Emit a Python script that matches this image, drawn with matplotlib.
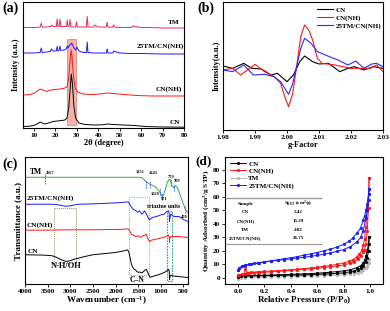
import numpy as np
import matplotlib
matplotlib.use("Agg")
import matplotlib.pyplot as plt
from matplotlib.patches import Rectangle

plt.rcParams['font.family'] = ['Liberation Serif', 'DejaVu Serif']
plt.rcParams['font.weight'] = 'bold'
plt.rcParams['axes.labelweight'] = 'bold'
plt.rcParams['axes.linewidth'] = 0.8
plt.rcParams['mathtext.default'] = 'regular'

# ---------------- (a) XRD ----------------
xrd_cn_x = [5, 8, 10, 12, 13, 14, 15, 17, 19, 21, 23, 24.5, 25.5, 26.3, 27, 27.5, 28, 28.7, 29.5, 31, 34, 38, 42, 44.5, 47, 52, 57, 62, 70, 80]
xrd_cn_y = [1.5, 1.8, 2.5, 4.5, 6, 5, 4, 5, 6.5, 7, 7.5, 8, 10, 20, 40, 54, 45, 22, 10, 5, 3.5, 3, 3.2, 4, 3.5, 3, 2.5, 1.5, 1, 0.8]

xrd_cnnh_x = [5, 8, 10, 12, 13, 14, 16, 18, 20, 22, 24, 25.5, 26.3, 27, 27.4, 27.8, 28.5, 29.3, 30.5, 33, 37, 41, 44, 47, 52, 58, 65, 72, 80]
xrd_cnnh_y = [33, 33.5, 34.5, 37.5, 39, 38, 36.5, 38, 38.5, 39, 39.5, 41, 50, 70, 78, 72, 52, 40, 36, 34, 33.5, 34, 35, 34.5, 33.5, 32.5, 32, 32, 32]

xrd_tmcn_x = [5, 10, 13, 13.5, 14, 16, 17.8, 18.2, 19, 20.5, 20.9, 21.3, 21.8, 22.2, 22.6, 24, 25.2, 25.6, 26, 26.6, 27.2, 27.7, 28.3, 29, 29.7, 30.1, 31, 33, 34.6, 34.9, 35.3, 38, 41, 43.8, 44.2, 44.6, 46.8, 47.2, 50, 55, 60, 70, 80]
xrd_tmcn_y = [75, 75, 75.5, 80, 75.5, 76, 76.5, 79, 77, 77, 81.5, 77, 77.5, 82, 77.5, 78, 79, 82, 80, 82.5, 83.5, 85, 82, 79, 78, 81, 77, 75.5, 75.5, 86, 75.5, 75, 75, 75, 79, 75, 75, 77, 75, 74.5, 74.5, 74, 74]

xrd_tm_x = [5, 10, 13, 13.5, 14, 16, 18, 18.5, 19, 20.5, 20.9, 21.3, 21.8, 22.2, 22.6, 24, 25.3, 25.6, 26, 26.5, 26.9, 27.3, 28, 29.5, 29.9, 30.3, 32, 34.5, 34.9, 35.3, 37, 38, 38.4, 40, 43.8, 44.2, 44.6, 46.8, 47.2, 47.6, 52, 55.5, 56, 60, 64, 70, 80]
xrd_tm_y = [100.5, 100.5, 100.8, 105, 100.8, 101, 101.5, 103, 101.5, 101.5, 109, 101.5, 101.5, 109, 101.5, 101.5, 101.5, 108, 101.5, 101.5, 108.5, 101.5, 101, 101, 106, 101, 101, 101, 111.5, 101, 101, 101, 103, 101, 100.8, 106, 100.8, 100.8, 103, 100.8, 100.5, 100.5, 102, 100.5, 100.5, 100, 100]

xrd_ticks = [10, 20, 30, 40, 50, 60, 70, 80]

# ---------------- (b) EPR ----------------
epr_cn_x = [1.980, 1.983, 1.9865, 1.989, 1.992, 1.995, 1.997, 2.000, 2.002, 2.004, 2.0055, 2.008, 2.010, 2.013, 2.0165, 2.019, 2.021, 2.024, 2.027, 2.030]
epr_cn_y = [192, 185, 200, 185, 183, 165, 170, 145, 165, 205, 222, 205, 198, 200, 175, 185, 190, 180, 190, 185]

epr_cnnh_x = [1.980, 1.983, 1.9855, 1.990, 1.993, 1.996, 1.998, 1.9993, 2.0005, 2.0018, 2.003, 2.0043, 2.0055, 2.0068, 2.008, 2.0095, 2.011, 2.015, 2.020, 2.023, 2.026, 2.028, 2.030]
epr_cnnh_y = [180, 185, 165, 197, 175, 160, 140, 100, 70, 110, 190, 280, 315, 300, 270, 215, 200, 195, 185, 185, 185, 195, 175]

epr_tmcn_x = [1.980, 1.983, 1.9865, 1.9895, 1.993, 1.996, 1.998, 1.9993, 2.0005, 2.0018, 2.003, 2.0043, 2.0055, 2.0065, 2.0075, 2.0095, 2.012, 2.0145, 2.016, 2.019, 2.0215, 2.024, 2.0265, 2.028, 2.030]
epr_tmcn_y = [180, 175, 195, 165, 167, 160, 145, 125, 107, 140, 190, 245, 275, 268, 260, 235, 225, 215, 210, 195, 207, 185, 198, 200, 190]

epr_ticks = [1.98, 1.99, 2.00, 2.01, 2.02, 2.03]

# ---------------- (c) FTIR ----------------
ir_tm_x = [4000, 3000, 2000, 1500, 1420, 1380, 1332, 1290, 1243, 1200, 1150, 1100, 1050, 1028, 1000, 971, 940, 900, 860, 820, 790, 779, 750, 720, 709, 680, 650, 620, 580, 540, 500, 470, 440, 400]
ir_tm_y = [321, 321, 321, 321, 320, 315, 308, 305, 300, 298, 295, 290, 282, 278, 270, 262, 268, 285, 305, 315, 313, 305, 295, 290, 292, 295, 293, 285, 270, 255, 240, 228, 220, 215]

ir_tmcn_x = [4000, 3600, 3400, 3300, 3200, 3100, 3000, 2900, 2800, 2500, 2000, 1800, 1720, 1690, 1657, 1620, 1584, 1550, 1511, 1474, 1440, 1416, 1390, 1365, 1328, 1291, 1255, 1220, 1182, 1108, 1050, 999, 926, 874, 830, 816, 808, 801, 790, 779, 740, 706, 650, 596, 540, 486, 440, 413]
ir_tmcn_y = [240, 240, 240, 239, 236, 234, 235, 238, 240, 241, 244, 246, 247, 240, 233, 226, 223, 220, 216, 220, 214, 210, 214, 220, 213, 203, 193, 197, 200, 203, 205, 208, 210, 218, 220, 213, 188, 196, 205, 210, 206, 203, 203, 203, 198, 193, 191, 188]

ir_cnnh_x = [4000, 3500, 3000, 2500, 2000, 1800, 1720, 1690, 1650, 1600, 1550, 1500, 1450, 1400, 1350, 1320, 1290, 1250, 1200, 1100, 1000, 900, 830, 815, 808, 800, 780, 700, 600, 500, 400]
ir_cnnh_y = [162, 162, 163, 163, 164, 165, 166, 160, 150, 146, 143, 145, 140, 145, 147, 150, 137, 128, 132, 135, 138, 142, 147, 143, 125, 138, 143, 143, 143, 141, 140]

ir_cn_x = [4000, 3600, 3400, 3300, 3200, 3100, 3000, 2900, 2700, 2500, 2200, 2000, 1800, 1740, 1710, 1680, 1650, 1620, 1590, 1560, 1530, 1500, 1460, 1420, 1380, 1350, 1320, 1290, 1260, 1240, 1200, 1150, 1050, 950, 880, 830, 815, 808, 798, 780, 720, 650, 580, 500, 440, 400]
ir_cn_y = [88, 87, 85, 80, 73, 68, 70, 75, 82, 88, 92, 95, 100, 103, 98, 80, 60, 50, 45, 42, 38, 35, 36, 33, 38, 42, 44, 35, 26, 20, 22, 24, 28, 33, 38, 44, 40, 14, 22, 26, 24, 23, 22, 21, 20, 20]

ir_peaks = [3567, 1332, 1243, 1028, 971, 779, 709, 470]
ir_peak_lo = [300, 290, 288, 268, 253, 295, 280, 213]
ir_peak_hi = [333, 312, 310, 290, 275, 318, 302, 238]
ir_peak_lx = [3450, 1470, 1180, 1125, 935, 779, 640, 480]
ir_peak_ly = [333, 336, 333, 271, 256, 323, 311, 202]
ir_ticks = [4000, 3500, 3000, 2500, 2000, 1500, 1000, 500]

# ---------------- (d) BET ----------------
bet_cn_ads_p = [0.0, 0.02, 0.05, 0.1, 0.15, 0.2, 0.25, 0.3, 0.35, 0.4, 0.45, 0.5, 0.55, 0.6, 0.65, 0.7, 0.75, 0.8, 0.85, 0.88, 0.91, 0.93, 0.95, 0.97, 0.98, 0.99, 0.995]
bet_cn_ads_q = [1.0, 1.2, 1.4, 1.5, 1.6, 1.7, 1.8, 1.9, 2.0, 2.1, 2.2, 2.3, 2.5, 2.7, 2.9, 3.1, 3.4, 3.8, 4.5, 5.2, 6.2, 7.2, 9.0, 12.0, 15.0, 20.0, 30.5]
bet_cn_des_p = [0.995, 0.99, 0.98, 0.97, 0.96, 0.95, 0.93, 0.9, 0.85, 0.8, 0.75, 0.7, 0.65, 0.6, 0.55, 0.5, 0.45, 0.4, 0.35, 0.3, 0.25, 0.2, 0.15, 0.1, 0.05]
bet_cn_des_q = [30.5, 25.0, 20.0, 16.0, 13.0, 11.0, 9.0, 7.5, 6.0, 5.2, 4.7, 4.2, 3.8, 3.5, 3.2, 3.0, 2.8, 2.6, 2.4, 2.3, 2.1, 2.0, 1.8, 1.7, 1.5]

bet_cnnh_ads_p = [0.0, 0.01, 0.03, 0.05, 0.08, 0.12, 0.16, 0.2, 0.25, 0.3, 0.35, 0.4, 0.45, 0.5, 0.55, 0.6, 0.65, 0.7, 0.75, 0.8, 0.85, 0.88, 0.91, 0.93, 0.95, 0.96, 0.97, 0.98, 0.99, 0.995]
bet_cnnh_ads_q = [2.0, 2.4, 2.8, 3.0, 3.3, 3.6, 3.9, 4.2, 4.5, 4.9, 5.2, 5.6, 6.0, 6.4, 6.8, 7.2, 7.7, 8.2, 8.8, 9.6, 10.8, 12.0, 14.0, 16.0, 19.0, 21.0, 25.0, 35.0, 52.0, 74.0]
bet_cnnh_des_p = [0.995, 0.99, 0.98, 0.97, 0.96, 0.95, 0.94, 0.92, 0.9, 0.87, 0.84, 0.8, 0.75, 0.7, 0.65, 0.6, 0.55, 0.5, 0.45, 0.4, 0.35, 0.3, 0.25, 0.2, 0.15, 0.1, 0.07, 0.05, 0.05]
bet_cnnh_des_q = [74.0, 62.0, 50.0, 38.0, 29.0, 24.0, 20.5, 17.5, 15.5, 13.5, 12.2, 11.0, 10.0, 9.2, 8.5, 7.9, 7.4, 6.9, 6.5, 6.1, 5.7, 5.4, 5.1, 4.8, 4.5, 4.2, 4.0, 6.5, 3.0]

bet_tm_ads_p = [0.0, 0.02, 0.05, 0.1, 0.15, 0.2, 0.25, 0.3, 0.35, 0.4, 0.45, 0.5, 0.55, 0.6, 0.65, 0.7, 0.75, 0.8, 0.85, 0.88, 0.91, 0.93, 0.95, 0.97, 0.98, 0.99, 0.995]
bet_tm_ads_q = [-0.5, 0.0, 0.2, 0.4, 0.5, 0.6, 0.7, 0.8, 0.9, 1.0, 1.1, 1.2, 1.3, 1.45, 1.6, 1.8, 2.0, 2.3, 2.8, 3.2, 3.9, 4.5, 5.5, 7.5, 9.0, 11.0, 14.0]
bet_tm_des_p = [0.995, 0.99, 0.98, 0.96, 0.93, 0.9, 0.85, 0.8, 0.75, 0.7, 0.65, 0.6, 0.55, 0.5, 0.45, 0.4, 0.35, 0.3, 0.25, 0.2, 0.15, 0.1, 0.05]
bet_tm_des_q = [14.0, 11.0, 9.0, 7.0, 5.5, 4.5, 3.8, 3.3, 3.0, 2.7, 2.4, 2.2, 2.0, 1.9, 1.75, 1.6, 1.45, 1.3, 1.15, 1.0, 0.85, 0.7, 0.4]

bet_tmcn_ads_p = [0.0, 0.01, 0.03, 0.05, 0.08, 0.12, 0.16, 0.2, 0.25, 0.3, 0.35, 0.4, 0.45, 0.5, 0.55, 0.6, 0.65, 0.7, 0.75, 0.8, 0.85, 0.9, 0.93, 0.95, 0.97, 0.98, 0.99, 0.995]
bet_tmcn_ads_q = [5.5, 7.5, 8.8, 9.5, 10.2, 10.8, 11.3, 11.8, 12.4, 13.0, 13.6, 14.1, 14.7, 15.3, 16.0, 16.7, 17.5, 18.5, 19.7, 21.0, 23.0, 26.5, 30.0, 35.0, 44.0, 50.0, 58.0, 66.0]
bet_tmcn_des_p = [0.995, 0.99, 0.98, 0.97, 0.96, 0.95, 0.93, 0.9, 0.87, 0.84, 0.8, 0.75, 0.7, 0.65, 0.6, 0.55, 0.5, 0.45, 0.4, 0.35, 0.3, 0.25, 0.2, 0.15, 0.1, 0.05, 0.0]
bet_tmcn_des_q = [66.0, 62.0, 55.0, 50.0, 46.0, 43.0, 37.0, 33.0, 29.5, 27.0, 24.8, 22.8, 21.3, 20.0, 18.8, 17.8, 16.8, 15.8, 15.0, 14.2, 13.4, 12.6, 11.9, 11.0, 10.2, 9.0, 5.5]

bet_samples = ['CN', 'CN(NH)', 'TM', '25TM/CN(NH)']
bet_sbet = ['5.42', '15.29', '4.82', '26.75']
bet_xticks = [0.0, 0.2, 0.4, 0.6, 0.8, 1.0]
bet_yticks = [0, 10, 20, 30, 40, 50, 60, 70, 80]

W, H = 390, 311
fig = plt.figure(figsize=(W / 100, H / 100), dpi=100)


def box(l, r, t, b):
    return [l / W, (H - b) / H, (r - l) / W, (b - t) / H]


def style(ax):
    ax.tick_params(direction='out', length=2, width=0.6, labelsize=5.2, pad=1.5)
    for lab in ax.get_xticklabels() + ax.get_yticklabels():
        lab.set_fontweight('bold')


TXT = dict(fontsize=5.2, fontweight='bold')

# (a)
ax = fig.add_axes(box(23, 184, 2, 128))
ax.add_patch(Rectangle((25.3, 3.3), 4.4, 85.7, facecolor='#f3a79c', edgecolor='#e27a6a', lw=0.6, alpha=0.85, zorder=1))
ax.plot(xrd_cn_x, xrd_cn_y, color='black', lw=0.7, zorder=2)
ax.plot(xrd_cnnh_x, xrd_cnnh_y, color='#ff1414', lw=0.7, zorder=2)
ax.plot(xrd_tmcn_x, xrd_tmcn_y, color='#1a1aff', lw=0.7, zorder=2)
ax.plot(xrd_tm_x, xrd_tm_y, color='#ec2a55', lw=0.7, zorder=2)
ax.set_xlim(5, 80)
ax.set_ylim(0, 126)
ax.set_xticks(xrd_ticks)
ax.set_yticks([])
ax.text(78, 106, 'TM', ha='right', va='center', **TXT)
ax.text(80, 82, '25TM/CN(NH)', ha='right', va='center', **TXT)
ax.text(79, 39, 'CN(NH)', ha='right', va='center', **TXT)
ax.text(78, 5.5, 'CN', ha='right', va='center', **TXT)
ax.set_xlabel('2θ (degree)', fontsize=6, labelpad=0.5)
ax.set_ylabel('Intensity (a.u.)', fontsize=6, labelpad=2)
style(ax)
fig.text(2 / W, 1 - 12 / H, '(a)', fontsize=10, fontweight='bold')

# (b)
ax = fig.add_axes(box(223, 383, 2, 130))
ax.plot(epr_cn_x, epr_cn_y, color='black', lw=0.8, label='CN')
ax.plot(epr_cnnh_x, epr_cnnh_y, color='#ff1414', lw=0.8, label='CN(NH)')
ax.plot(epr_tmcn_x, epr_tmcn_y, color='#2a2aff', lw=0.8, label='25TM/CN(NH)')
ax.set_xlim(1.98, 2.03)
ax.set_ylim(0, 384)
ax.set_xticks(epr_ticks)
ax.set_xticklabels(['%.2f' % t for t in epr_ticks])
ax.set_yticks([])
leg = ax.legend(loc='upper right', bbox_to_anchor=(1.03, 1.01), frameon=False, fontsize=5,
                handlelength=2.3, handletextpad=0.4, labelspacing=0.25)
for t in leg.get_texts():
    t.set_fontweight('bold')
ax.set_xlabel('g-Factor', fontsize=6, labelpad=1)
ax.set_ylabel('Intensity(a.u.)', fontsize=6, labelpad=2)
style(ax)
fig.text(197 / W, 1 - 12 / H, '(b)', fontsize=10, fontweight='bold')

# (c)
ax = fig.add_axes(box(25, 188, 157, 284))
ax.plot(ir_tm_x, ir_tm_y, color='#3daa4e', lw=0.7)
ax.plot(ir_tmcn_x, ir_tmcn_y, color='#1a1aff', lw=0.7)
ax.plot(ir_cnnh_x, ir_cnnh_y, color='#ff1414', lw=0.7)
ax.plot(ir_cn_x, ir_cn_y, color='black', lw=0.7)
ax.add_patch(Rectangle((2880, 63), 476, 165, fill=False, edgecolor='#9c8f62', lw=0.7, ls=(0, (1, 1))))
ax.add_patch(Rectangle((1269, 28), 440, 235, fill=False, edgecolor='#5fe05f', lw=0.8, ls=(0, (1, 1))))
ax.add_patch(Rectangle((757, 8), 110, 212, fill=False, edgecolor='#2aa58a', lw=0.8, ls=(0, (1.5, 1))))
for k in range(len(ir_peaks)):
    ax.plot([ir_peaks[k], ir_peaks[k]], [ir_peak_lo[k], ir_peak_hi[k]], color='#2b5cff', lw=0.6, ls=(0, (2, 1)))
    ax.text(ir_peak_lx[k], ir_peak_ly[k], str(ir_peaks[k]), fontsize=3.2, fontweight='bold', ha='center', va='center')
ax.text(3900, 336, 'TM', ha='left', va='center', fontsize=5.5, fontweight='bold')
ax.text(3970, 258, '25TM/CN(NH)', ha='left', va='center', **TXT)
ax.text(3960, 178, 'CN(NH)', ha='left', va='center', **TXT)
ax.text(3950, 98, 'CN', ha='left', va='center', **TXT)
ax.text(3080, 54, 'N-H/OH', ha='center', va='center', fontsize=6, fontweight='bold')
ax.text(1530, 13, 'C–N', ha='center', va='center', fontsize=5.5, fontweight='bold')
ax.text(945, 233, 'triazine units', ha='center', va='center', fontsize=4.2, fontweight='bold')
ax.set_xlim(4000, 400)
ax.set_ylim(0, 382)
ax.set_xticks(ir_ticks)
ax.set_yticks([])
ax.set_xlabel('Wavenumber (cm$^{-1}$)', fontsize=6.5, labelpad=0.5)
ax.set_ylabel('Transmittance (a.u.)', fontsize=6.5, labelpad=2)
style(ax)
fig.text(2 / W, 1 - 168 / H, '(c)', fontsize=10, fontweight='bold')

# (d)
ax = fig.add_axes(box(225, 383, 157, 284))
mk = dict(marker='o', markersize=2.0, lw=0.7, markeredgewidth=0.3)
ax.plot(bet_tm_ads_p, bet_tm_ads_q, color='#b8b8b8', label='TM', zorder=2, **mk)
ax.plot(bet_tm_des_p, bet_tm_des_q, color='#b8b8b8', zorder=2, **mk)
ax.plot(bet_cn_ads_p, bet_cn_ads_q, color='black', label='CN', zorder=3, **mk)
ax.plot(bet_cn_des_p, bet_cn_des_q, color='black', zorder=3, **mk)
ax.plot(bet_cnnh_ads_p, bet_cnnh_ads_q, color='#ff1414', label='CN(NH)', zorder=3, **mk)
ax.plot(bet_cnnh_des_p, bet_cnnh_des_q, color='#ff1414', zorder=3, **mk)
ax.plot(bet_tmcn_ads_p, bet_tmcn_ads_q, color='#1a1aff', label='25TM/CN(NH)', zorder=4, **mk)
ax.plot(bet_tmcn_des_p, bet_tmcn_des_q, color='#1a1aff', zorder=4, **mk)
h, l = ax.get_legend_handles_labels()
order = [1, 2, 0, 3]
leg = ax.legend([h[i] for i in order], [l[i] for i in order], loc='upper left', bbox_to_anchor=(-0.01, 1.02),
                frameon=False, fontsize=5, handlelength=2.3, handletextpad=0.4, labelspacing=0.2)
for t in leg.get_texts():
    t.set_fontweight('bold')
ax.hlines(59.5, -0.09, 0.64, color='#9a9a9a', lw=1.0)
ax.hlines(25.0, -0.09, 0.64, color='#9a9a9a', lw=0.8)
ax.text(0.055, 55.0, 'Sample', fontsize=3.6, fontweight='bold', ha='center', va='center')
ax.text(0.455, 55.0, 'S$_{BET}$ (cm$^2$/g)', fontsize=3.6, fontweight='bold', ha='center', va='center')
rows_y = [48.7, 42.0, 35.5, 29.2]
for k in range(len(bet_samples)):
    ax.text(0.055, rows_y[k], bet_samples[k], fontsize=3.6, fontweight='bold', ha='center', va='center')
    ax.text(0.455, rows_y[k], bet_sbet[k], fontsize=3.6, fontweight='bold', ha='center', va='center')
ax.set_xlim(-0.1, 1.1)
ax.set_ylim(-4.5, 89.5)
ax.set_xticks(bet_xticks)
ax.set_xticklabels(['%.1f' % t for t in bet_xticks])
ax.set_yticks(bet_yticks)
ax.set_xlabel('Relative Pressure (P/P$_0$)', fontsize=6.5, labelpad=0.5)
ax.set_ylabel('Quantity Adsorbed (cm$^3$/g STP)', fontsize=5.3, labelpad=1.5)
style(ax)
fig.text(195 / W, 1 - 164 / H, '(d)', fontsize=9.5, fontweight='bold')

fig.savefig('out.png', dpi=100)
